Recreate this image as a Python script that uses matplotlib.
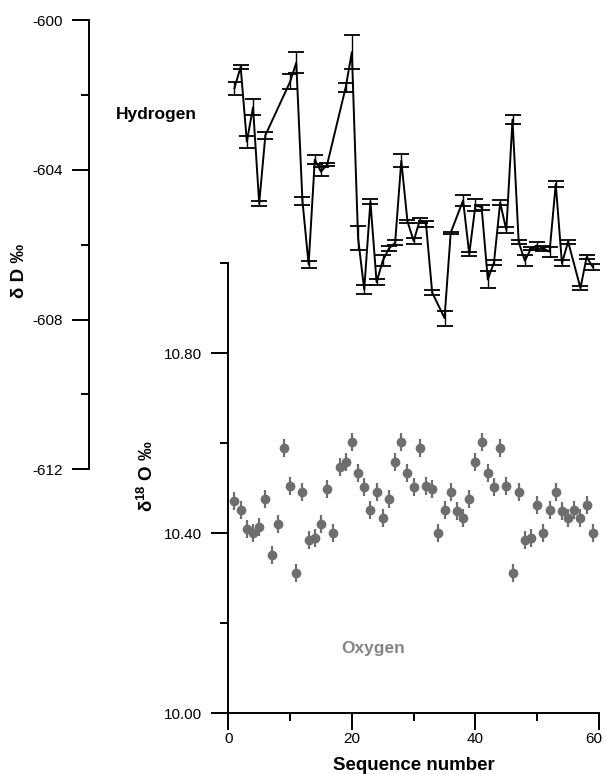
import numpy as np
import matplotlib
matplotlib.use("Agg")
import matplotlib.pyplot as plt
from matplotlib.ticker import MultipleLocator, FormatStrFormatter
from matplotlib.transforms import ScaledTranslation

plt.rcParams['font.family'] = ['Liberation Sans', 'DejaVu Sans']
plt.rcParams['axes.unicode_minus'] = False
plt.rcParams['mathtext.fontset'] = 'custom'
plt.rcParams['mathtext.bf'] = 'Liberation Sans:bold'
plt.rcParams['mathtext.rm'] = 'Liberation Sans'

# Hydrogen: sequence number, delta D and its error
h_seq = [1, 2, 3, 4, 5, 6, 10, 11, 12, 13, 14, 15, 16, 19, 20, 21, 22, 23, 24, 25,
         26, 27, 28, 29, 30, 31, 32, 33, 35, 36, 38, 39, 40, 41, 42, 43, 44, 45, 46,
         47, 48, 49, 50, 51, 52, 53, 54, 55, 57, 58, 59]
h_val = [-601.82, -601.25, -603.25, -602.33, -604.90, -603.08, -601.65, -601.14,
         -604.83, -606.53, -603.73, -604.05, -603.86, -601.80, -600.86, -605.82,
         -607.20, -604.85, -607.00, -606.43, -606.10, -605.95, -603.76, -605.38,
         -605.90, -605.35, -605.45, -607.28, -607.96, -605.68, -604.82, -606.25,
         -604.95, -605.00, -606.93, -606.48, -604.88, -605.61, -602.66, -605.93,
         -606.43, -606.10, -606.02, -606.10, -606.19, -604.38, -606.50, -605.92,
         -607.16, -606.33, -606.60]
h_err = [0.17, 0.06, 0.16, 0.21, 0.06, 0.10, 0.20, 0.28, 0.10, 0.10, 0.12, 0.12,
         0.05, 0.11, 0.45, 0.31, 0.13, 0.07, 0.09, 0.15, 0.07, 0.07, 0.17, 0.05,
         0.07, 0.07, 0.07, 0.06, 0.20, 0.03, 0.15, 0.05, 0.16, 0.07, 0.23, 0.06,
         0.07, 0.07, 0.12, 0.05, 0.15, 0.05, 0.09, 0.06, 0.13, 0.08, 0.08, 0.05,
         0.06, 0.05, 0.07]

# Oxygen: sequence 1..59, delta 18O
o_seq = list(range(1, 60))
o_val = [10.472, 10.452, 10.409, 10.401, 10.413, 10.476, 10.352, 10.421, 10.589,
         10.505, 10.312, 10.492, 10.385, 10.390, 10.421, 10.498, 10.401, 10.547,
         10.559, 10.602, 10.533, 10.504, 10.452, 10.492, 10.434, 10.476, 10.559,
         10.602, 10.533, 10.504, 10.589, 10.505, 10.498, 10.401, 10.452, 10.492,
         10.450, 10.433, 10.476, 10.559, 10.602, 10.533, 10.504, 10.589, 10.505,
         10.312, 10.492, 10.385, 10.390, 10.462, 10.401, 10.452, 10.492, 10.450,
         10.435, 10.452, 10.435, 10.462, 10.401]
o_err = 0.02

W, H = 605, 774
fig = plt.figure(figsize=(W / 100, H / 100), dpi=100)

x0, x1 = 228.3, 599.0
ax_o = fig.add_axes([x0 / W, (H - 713.3) / H, (x1 - x0) / W, 450.0 / H])
ax_h = fig.add_axes([x0 / W, (H - 469.3) / H, (x1 - x0) / W, 449.3 / H])
ax_h.patch.set_alpha(0)

ax_o.errorbar(o_seq, o_val, yerr=o_err, fmt='o', color='#6e6e6e', ms=6,
              elinewidth=1.6, capsize=0, mec='#6e6e6e')
ax_h.errorbar(h_seq, h_val, yerr=h_err, fmt='-', color='black', lw=1.4,
              elinewidth=1.0, capsize=6, capthick=1.3)

ax_o.set_xlim(0, 60)
ax_o.set_ylim(10.0, 11.0)
ax_h.set_xlim(0, 60)
ax_h.set_ylim(-612, -600)

for sp in ['top', 'right']:
    ax_o.spines[sp].set_visible(False)
for sp in ['top', 'right', 'bottom']:
    ax_h.spines[sp].set_visible(False)
for ax in (ax_o, ax_h):
    for sp in ax.spines.values():
        sp.set_linewidth(1.4)
ax_h.spines['left'].set_position(('axes', (89 - x0) / (x1 - x0)))
ax_h.set_xticks([])

ax_o.set_xticks([0, 20, 40, 60])
ax_o.xaxis.set_minor_locator(MultipleLocator(10))
ax_o.yaxis.set_major_locator(MultipleLocator(0.4))
ax_o.yaxis.set_minor_locator(MultipleLocator(0.2))
ax_o.yaxis.set_major_formatter(FormatStrFormatter('%.2f'))
ax_h.yaxis.set_major_locator(MultipleLocator(4))
ax_h.yaxis.set_minor_locator(MultipleLocator(2))

for ax in (ax_o, ax_h):
    ax.tick_params(which='major', direction='out', length=12, width=1.4, labelsize=11)
    ax.tick_params(which='minor', direction='out', length=6, width=1.4)
    ax.tick_params(axis='y', which='major', pad=7)
ax_o.tick_params(axis='x', which='major', pad=1.5)

# nudge the last x tick label so it stays inside the figure
last = ax_o.xaxis.get_major_ticks()[-1].label1
last.set_transform(last.get_transform() + ScaledTranslation(-5 / 100, 0, fig.dpi_scale_trans))

ax_o.set_xlabel('Sequence number', fontsize=13.5, fontweight='bold', labelpad=8)

fig.text(20 / W, 1 - 271 / H, 'δ D ‰', rotation=90, ha='center', va='center',
         fontsize=13.5, fontweight='bold')
fig.text(147 / W, 1 - 476 / H, r'δ$^{\mathbf{18}}$ O ‰', rotation=90,
         ha='center', va='center', fontsize=13.5, fontweight='bold')
fig.text(116 / W, 1 - 115 / H, 'Hydrogen', ha='left', va='center',
         fontsize=12.5, fontweight='bold')
fig.text(373 / W, 1 - 648 / H, 'Oxygen', ha='center', va='center',
         fontsize=12.5, fontweight='bold', color='#858585')

fig.savefig('out.png', dpi=100)
